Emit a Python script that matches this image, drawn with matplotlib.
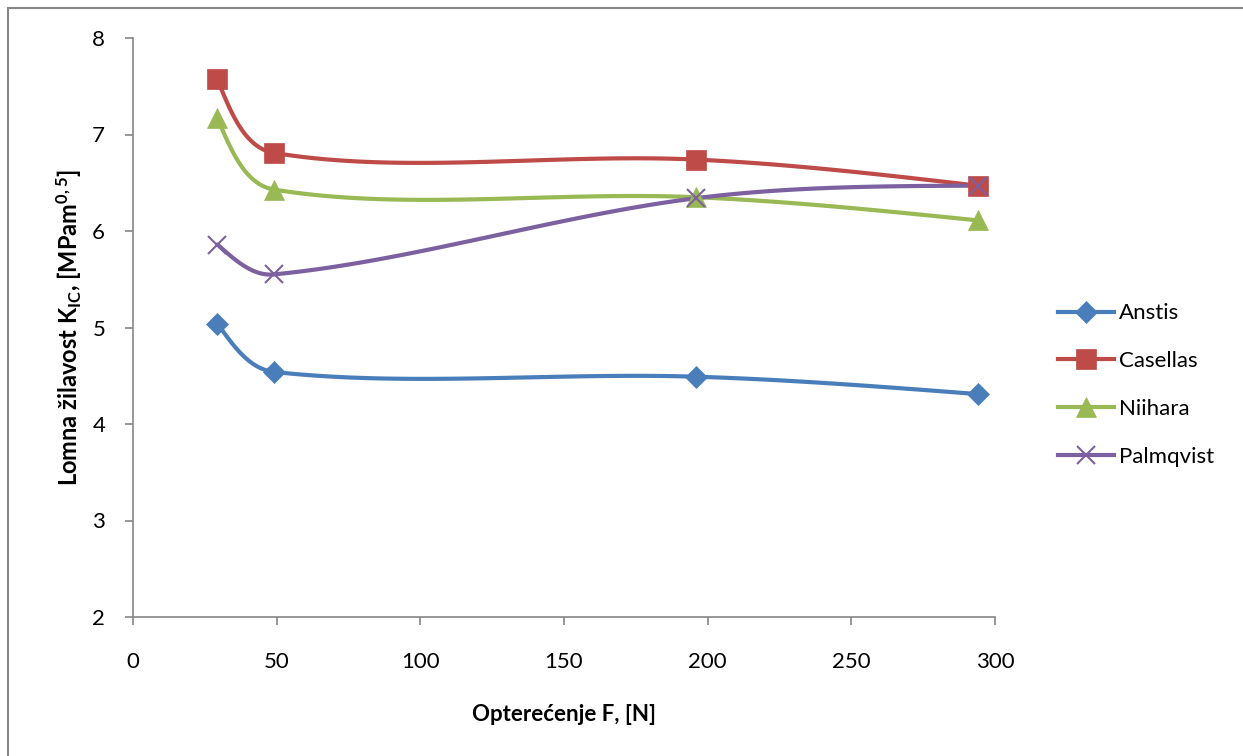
import numpy as np
import matplotlib
matplotlib.use("Agg")
import matplotlib.pyplot as plt
from matplotlib.patches import Rectangle

plt.rcParams['font.family'] = ['Lato', 'DejaVu Sans']
plt.rcParams['mathtext.default'] = 'regular'

# data
load = [29.4, 49, 196, 294]
anstis = [5.04, 4.54, 4.49, 4.31]
casellas = [7.57, 6.81, 6.74, 6.47]
niihara = [7.17, 6.43, 6.35, 6.11]
palmqvist = [5.86, 5.55, 6.34, 6.47]

names = ['Anstis', 'Casellas', 'Niihara', 'Palmqvist']
colors = ['#4A7EBB', '#BE4B48', '#98B954', '#7D60A0']
markers = ['D', 's', '^', 'x']
msizes = [11, 14, 14, 13]


def smooth(ax, xs, ys, n=40):
    """Excel-like smoothed line, bezier in screen space with
    control arms weighted by segment length"""
    pts = ax.transData.transform(np.column_stack([xs, ys]))
    last = len(pts) - 1
    out = [pts[0]]
    for i in range(last):
        p1 = pts[i]
        p2 = pts[i + 1]
        d12 = np.hypot(*(p2 - p1))
        c1 = c2 = None
        if i > 0:
            p0 = pts[i - 1]
            d01 = np.hypot(*(p1 - p0))
            c1 = p1 + (p2 - p0) * d12 / (d01 + d12) / 3.0
        if i + 1 < last:
            p3 = pts[i + 2]
            d23 = np.hypot(*(p3 - p2))
            c2 = p2 - (p3 - p1) * d12 / (d12 + d23) / 3.0
        # free ends: zero curvature
        if c1 is None:
            c1 = (p1 + c2) / 2.0
        if c2 is None:
            c2 = (p2 + c1) / 2.0
        t = np.linspace(0, 1, n)[1:, None]
        seg = ((1 - t) ** 3) * p1 + 3 * ((1 - t) ** 2) * t * c1 \
            + 3 * (1 - t) * t ** 2 * c2 + t ** 3 * p2
        out.extend(seg)
    out = np.array(out)
    return ax.transData.inverted().transform(out)


fig = plt.figure(figsize=(12.43, 7.56), dpi=100)
ax = fig.add_axes([133 / 1243, 1 - 617 / 756, 862 / 1243, 579 / 756])
ax.set_xlim(0, 300)
ax.set_ylim(2, 8)

series = [anstis, casellas, niihara, palmqvist]
for name, vals, c, m, ms in zip(names, series, colors, markers, msizes):
    curve = smooth(ax, load, vals)
    ax.plot(curve[:, 0], curve[:, 1], color=c, lw=3, solid_capstyle='round', zorder=2)
    ax.plot(load, vals, linestyle='none', marker=m, color=c, markersize=ms,
            markeredgewidth=1.5 if m == 'x' else 0.5, markeredgecolor=c, zorder=3)
    ax.plot([], [], color=c, lw=3, marker=m, markersize=ms,
            markeredgewidth=1.5 if m == 'x' else 0.5, label=name)

ax.set_xticks(range(0, 301, 50))
ax.set_yticks(range(2, 9))
for s in ['top', 'right']:
    ax.spines[s].set_visible(False)
for s in ['left', 'bottom']:
    ax.spines[s].set_color('#868686')
    ax.spines[s].set_linewidth(1.2)
ax.tick_params(colors='#868686', labelcolor='black', labelsize=16, length=6, width=1.2)
ax.tick_params(axis='x', pad=19)
ax.tick_params(axis='y', pad=14)

ax.set_xlabel('Opterećenje F, [N]', fontsize=16, fontweight='bold', labelpad=23)
ax.set_ylabel('Lomna žilavost K$_{IC}$, [MPam$^{0,5}$]', fontsize=17,
              fontweight='bold', labelpad=6)

leg = ax.legend(loc='upper left', bbox_to_anchor=(1.05, 0.576), frameon=False,
                fontsize=16, handlelength=2.5, labelspacing=1.25, handletextpad=0.25)

fig.patches.append(Rectangle((8 / 1243, -0.05), 1.1, 1 - 8 / 756 + 0.05,
                             transform=fig.transFigure, fill=False,
                             edgecolor='#868686', lw=1.5))

fig.savefig('out.png', dpi=100)
